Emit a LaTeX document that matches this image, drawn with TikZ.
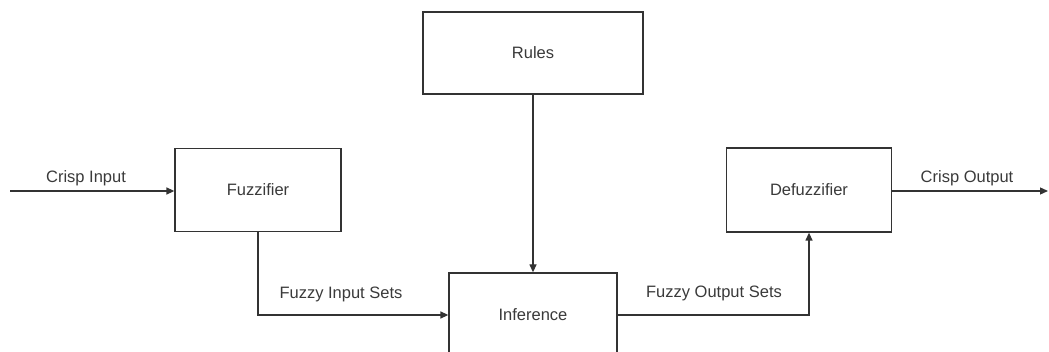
\documentclass[tikz,border=0pt]{standalone}
\usepackage{fontspec}
\setmainfont{Liberation Sans}
\usetikzlibrary{arrows.meta}
\definecolor{ln}{HTML}{333333}
\definecolor{tx}{HTML}{3A3A3A}
\begin{document}
\begin{tikzpicture}[x=1pt,y=-1pt,
  blk/.style={draw=ln,line width=1.3pt,fill=white,inner sep=0pt,font=\fontsize{16.5}{18}\selectfont,text=tx},
  conn/.style={draw=ln,line width=1.3pt,-{Triangle[length=8pt,width=7pt]}},
  lbl/.style={font=\fontsize{16.5}{18}\selectfont,text=tx,inner sep=0pt}]
\useasboundingbox (0,0) rectangle (1049,352);
\node[blk,minimum width=220pt,minimum height=82pt] (rules) at (533,53) {Rules};
\node[blk,minimum width=166pt,minimum height=83pt] (fuzz) at (258,190) {Fuzzifier};
\node[blk,minimum width=165pt,minimum height=84pt] (defuzz) at (809,190) {Defuzzifier};
\node[blk,minimum width=168pt,minimum height=84pt] (inf) at (533,315) {Inference};
\coordinate (cin) at (10,191);
\coordinate (cout) at (1048,191);
\draw[conn] (cin) -- (fuzz.west |- cin);
\draw[conn] (defuzz.east |- cout) -- (cout);
\draw[conn] (rules.south) -- (inf.north);
\draw[conn] (fuzz.south) |- (inf.west);
\draw[conn] (inf.east) -| (defuzz.south);
\node[lbl] (l1) at (86,178) {Crisp Input};
\node[lbl] (l2) at (967,178) {Crisp Output};
\node[lbl] (l3) at (341,294) {Fuzzy Input Sets};
\node[lbl] (l4) at (714,293) {Fuzzy Output Sets};
\end{tikzpicture}
\end{document}
